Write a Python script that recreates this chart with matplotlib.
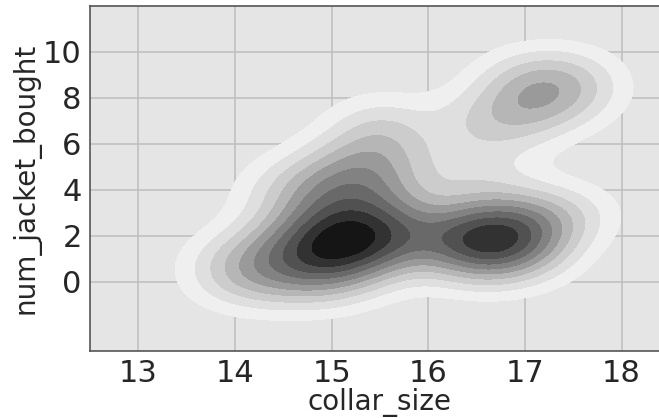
import numpy as np
import matplotlib
matplotlib.use("Agg")
import matplotlib.pyplot as plt

# estimated sample points behind the density plot
collar_size = [15.0, 15.0, 15.0, 15.5, 15.0, 15.5, 14.5, 14.5, 15.5, 15.0, 15.5, 15.0,
               14.0, 14.5, 14.0,
               16.5, 17.0, 16.5, 17.0, 16.5, 16.5, 17.0, 17.0, 16.5,
               16.0,
               15.5, 15.5, 15.0, 14.5, 15.0, 15.5, 15.5,
               17.0, 17.5, 16.5, 17.0, 17.5, 17.0,
               17.5, 16.5]
num_jacket_bought = [1, 2, 2, 2, 3, 1, 1, 2, 3, 1, 2, 0,
                     0, 0, 1,
                     2, 2, 1, 1, 2, 3, 3, 2, 1,
                     2,
                     5, 6, 5, 4, 4, 4, 7,
                     8, 8, 7, 7, 9, 9,
                     3, 5]

x = np.array(collar_size, dtype=float)
y = np.array(num_jacket_bought, dtype=float)

# product gaussian kernel, scott bandwidth per dimension
n = len(x)
bw_adjust = 0.75
bw_x = bw_adjust * x.std(ddof=1) * n ** (-1 / 6)
bw_y = bw_adjust * y.std(ddof=1) * n ** (-1 / 6)
gx = np.linspace(12.5, 18.5, 240)
gy = np.linspace(-3, 12, 240)
xx, yy = np.meshgrid(gx, gy)
z = np.zeros_like(xx)
for xi, yi in zip(x, y):
    z += np.exp(-0.5 * ((xx - xi) / bw_x) ** 2 - 0.5 * ((yy - yi) / bw_y) ** 2)
z /= n * 2 * np.pi * bw_x * bw_y

levels = np.linspace(0, z.max(), 12)

fig = plt.figure(figsize=(6.59, 4.18), dpi=100)
ax = fig.add_axes([0.1366, 0.1603, 0.88, 0.8254])
ax.set_facecolor("#e5e5e5")
ax.grid(True, color="#c0c0c0", linewidth=1.2)
ax.set_axisbelow(True)

# lowest level left unfilled
ax.contourf(xx, yy, z, levels=levels[1:], cmap="Greys",
            vmin=levels[0], vmax=levels[-1] * 1.03, zorder=2)

ax.set_xlim(12.5, 18.5)
ax.set_ylim(-3, 12)
ax.set_xticks([13, 14, 15, 16, 17, 18])
ax.set_yticks([0, 2, 4, 6, 8, 10])
ax.tick_params(length=0, labelsize=22, labelcolor="#262626", pad=6)
for side in ["left", "bottom", "top"]:
    ax.spines[side].set_color("#555555")
    ax.spines[side].set_linewidth(1.2)
ax.spines["right"].set_visible(False)
ax.set_xlabel("collar_size", fontsize=20, color="#262626", labelpad=0)
ax.set_ylabel("num_jacket_bought", fontsize=20, color="#262626", labelpad=2)

fig.savefig("out.png", dpi=100)
